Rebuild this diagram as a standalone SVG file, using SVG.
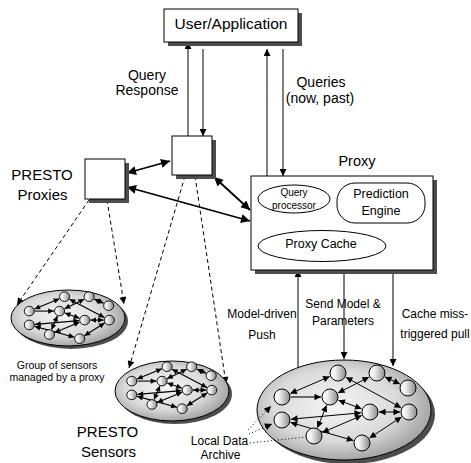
<svg xmlns="http://www.w3.org/2000/svg" width="471" height="463" viewBox="0 0 471 463">
<defs>
<style>
text{font-family:"Liberation Sans",Arial,sans-serif;fill:#000}
.box{fill:#fff;stroke:#000;stroke-width:1}
.shadow{fill:#4d4d4d}
.ln{stroke:#000;stroke-width:1;fill:none}
.thick{stroke:#000;stroke-width:1.8;fill:none}
.dash{stroke:#000;stroke-width:1;stroke-dasharray:4 3;fill:none}
.dot{stroke:#000;stroke-width:1;stroke-dasharray:1 2.5;fill:none}
.inner{fill:#fff;stroke:#000;stroke-width:1}
</style>
<marker id="a" viewBox="0 0 10 10" refX="10" refY="5" markerWidth="8" markerHeight="7" markerUnits="userSpaceOnUse" orient="auto-start-reverse"><path d="M0,0L10,5L0,10z" fill="#000"/></marker>
<marker id="ab" viewBox="0 0 10 10" refX="10" refY="5" markerWidth="11" markerHeight="9" markerUnits="userSpaceOnUse" orient="auto-start-reverse"><path d="M0,0L10,5L0,10z" fill="#000"/></marker>
<marker id="an" viewBox="0 0 10 10" refX="10" refY="5" markerWidth="9" markerHeight="6.5" markerUnits="userSpaceOnUse" orient="auto-start-reverse"><path d="M0,0L10,5L0,10z" fill="#000"/></marker>
<marker id="as" viewBox="0 0 10 10" refX="10" refY="5" markerWidth="12" markerHeight="9" markerUnits="userSpaceOnUse" orient="auto-start-reverse"><path d="M0,0L10,5L0,10z" fill="#000"/></marker>
<linearGradient id="ng" x1="0" y1="0" x2="1" y2="0"><stop offset="0" stop-color="#fff"/><stop offset="0.35" stop-color="#eee"/><stop offset="1" stop-color="#8a8a8a"/></linearGradient>
<radialGradient id="eg" cx="0.45" cy="0.45" r="0.6"><stop offset="0" stop-color="#f6f6f6"/><stop offset="0.6" stop-color="#dadada"/><stop offset="1" stop-color="#9a9a9a"/></radialGradient>
<g id="edges">
<line x1="-54.7" y1="-17.5" x2="-15.3" y2="-34.5"/>
<line x1="-7" y1="-18.1" x2="24" y2="-33.9"/>
<line x1="40.1" y1="-34.1" x2="54.9" y2="-26.9"/>
<line x1="0.9" y1="-33.7" x2="56.1" y2="-3.3"/>
<line x1="-6.6" y1="-10.8" x2="16.6" y2="-2.2"/>
<line x1="-54" y1="8.2" x2="16" y2="1.8"/>
<line x1="34" y1="1" x2="55" y2="1"/>
<line x1="-18.4" y1="-5.7" x2="-27.6" y2="16.7"/>
<line x1="-22.7" y1="21.5" x2="16.7" y2="4.5"/>
<line x1="-54.4" y1="11.5" x2="8.4" y2="29.5"/>
<line x1="24.5" y1="27" x2="56.5" y2="6"/>
</g>
<g id="nodes" fill="url(#ng)" stroke="#000">
<circle cx="-63" cy="-14" r="8"/>
<circle cx="-7" cy="-38" r="8"/>
<circle cx="32" cy="-38" r="8"/>
<circle cx="63" cy="-23" r="8"/>
<circle cx="-15" cy="-14" r="8"/>
<circle cx="25" cy="1" r="8"/>
<circle cx="64" cy="1" r="8"/>
<circle cx="-63" cy="9" r="8"/>
<circle cx="-31" cy="25" r="8"/>
<circle cx="17" cy="32" r="8"/>
</g>
</defs>

<g id="connectors">
<line class="ln" x1="188" y1="136" x2="188" y2="42" marker-end="url(#a)"/>
<line class="ln" x1="203" y1="49" x2="203" y2="136" marker-end="url(#a)"/>
<line class="ln" x1="267" y1="176" x2="267" y2="49" marker-end="url(#a)"/>
<line class="ln" x1="283" y1="49" x2="283" y2="176" marker-end="url(#a)"/>
<line class="ln" x1="298" y1="367" x2="298" y2="270" marker-end="url(#a)"/>
<line class="ln" x1="344" y1="270" x2="344" y2="359" marker-end="url(#a)"/>
<line class="ln" x1="393" y1="270" x2="393" y2="366" marker-end="url(#a)"/>
<line class="thick" x1="127" y1="173" x2="170" y2="161" marker-start="url(#ab)" marker-end="url(#ab)"/>
<line class="thick" x1="127" y1="187" x2="250" y2="221" marker-start="url(#ab)" marker-end="url(#ab)"/>
<line class="thick" x1="214" y1="177" x2="250" y2="210" marker-start="url(#ab)" marker-end="url(#ab)"/>
<line class="dash" x1="89" y1="200" x2="17" y2="305" marker-end="url(#a)"/>
<line class="dash" x1="107" y1="200" x2="124" y2="304" marker-end="url(#a)"/>
<line class="dash" x1="185" y1="176" x2="129" y2="368" marker-end="url(#a)"/>
<line class="dash" x1="195" y1="176" x2="226" y2="384" marker-end="url(#a)"/>
</g>

<g id="user-app">
<rect class="shadow" x="168" y="13" width="134" height="33"/>
<rect class="box" x="164" y="9" width="134" height="33"/>
<text x="231" y="29" font-size="15.5" text-anchor="middle">User/Application</text>
</g>

<g id="proxy-center">
<rect class="shadow" x="176" y="140" width="40" height="39"/>
<rect class="box" x="172" y="136" width="40" height="39"/>
</g>

<g id="proxy-left">
<rect class="shadow" x="89" y="163" width="40" height="40"/>
<rect class="box" x="85" y="159" width="40" height="40"/>
</g>

<g id="proxy">
<rect class="shadow" x="255" y="180" width="182" height="94"/>
<rect class="box" x="251" y="176" width="182" height="94"/>
<ellipse class="inner" cx="294" cy="199" rx="36" ry="14"/>
<text x="294" y="195.5" font-size="10" text-anchor="middle">Query</text>
<text x="294" y="209" font-size="10" text-anchor="middle">processor</text>
<rect class="inner" x="337" y="183" width="88" height="40" rx="18"/>
<text x="381" y="198" font-size="12.5" text-anchor="middle">Prediction</text>
<text x="381" y="215" font-size="12.5" text-anchor="middle">Engine</text>
<ellipse class="inner" cx="322" cy="246" rx="64" ry="15.5"/>
<text x="321" y="248" font-size="12.5" text-anchor="middle">Proxy Cache</text>
</g>

<g id="cluster-1">
<ellipse class="shadow" cx="71" cy="321" rx="57" ry="28"/>
<ellipse cx="68" cy="318" rx="57" ry="28" fill="url(#eg)" stroke="#000"/>
<g transform="translate(69,319.5) scale(0.63,0.6)">
<use href="#edges" fill="none" stroke="#000" stroke-width="1.9" marker-start="url(#as)" marker-end="url(#as)"/>
<line x1="-54" y1="-14" x2="-24" y2="-14" stroke="#5a5a5a" stroke-width="3" marker-end="url(#as)"/>
<use href="#nodes" stroke-width="1.5"/>
</g>
</g>

<g id="cluster-2">
<ellipse class="shadow" cx="175" cy="394" rx="57" ry="30"/>
<ellipse cx="172" cy="391" rx="57" ry="30" fill="url(#eg)" stroke="#000"/>
<g transform="translate(171.5,389.5) scale(0.63,0.6)">
<use href="#edges" fill="none" stroke="#000" stroke-width="1.9" marker-start="url(#as)" marker-end="url(#as)"/>
<line x1="-54" y1="-14" x2="-24" y2="-14" stroke="#5a5a5a" stroke-width="3" marker-end="url(#as)"/>
<use href="#nodes" stroke-width="1.5"/>
</g>
</g>

<g id="cluster-big">
<ellipse class="shadow" cx="348" cy="414" rx="87" ry="50"/>
<ellipse cx="344" cy="410" rx="87" ry="50" fill="url(#eg)" stroke="#000"/>
<g transform="translate(345,411)">
<g fill="none" stroke="#000" stroke-width="1">
<line x1="-54.7" y1="-17.5" x2="-15.3" y2="-34.5" marker-start="url(#an)" marker-end="url(#an)"/>
<line x1="-7" y1="-18.1" x2="24" y2="-33.9" marker-start="url(#an)" marker-end="url(#an)"/>
<line x1="40.1" y1="-34.1" x2="54.9" y2="-26.9" marker-start="url(#an)" marker-end="url(#an)"/>
<line x1="0.9" y1="-33.7" x2="56.1" y2="-3.3" marker-start="url(#an)" marker-end="url(#an)"/>
<line x1="-6.6" y1="-10.8" x2="16.6" y2="-2.2" marker-start="url(#an)" marker-end="url(#an)"/>
<line x1="-54" y1="8.2" x2="16" y2="1.8" marker-start="url(#an)" marker-end="url(#an)"/>
<line x1="34" y1="1" x2="55" y2="1" marker-start="url(#an)" marker-end="url(#an)"/>
<line x1="-18.4" y1="-5.7" x2="-27.6" y2="16.7" marker-start="url(#an)" marker-end="url(#an)"/>
<line x1="-22.7" y1="21.5" x2="16.7" y2="4.5" marker-start="url(#an)" marker-end="url(#an)"/>
<line x1="-54.4" y1="11.5" x2="8.4" y2="29.5" marker-start="url(#an)" marker-end="url(#an)"/>
<line x1="24.5" y1="27" x2="56.5" y2="6" marker-start="url(#an)" marker-end="url(#an)"/>
</g>
<line x1="-54" y1="-14" x2="-24" y2="-14" stroke="#6a6a6a" stroke-width="2" marker-end="url(#an)"/>
<use href="#nodes" stroke-width="1"/>
</g>
</g>

<g id="archive-links">
<line class="dot" x1="248" y1="430" x2="271" y2="406" marker-end="url(#a)"/>
<line class="dot" x1="249" y1="434" x2="272" y2="424" marker-end="url(#a)"/>
<line class="dot" x1="250" y1="443" x2="306" y2="437"/>
</g>

<g id="labels">
<text x="147" y="80" font-size="14" text-anchor="middle">Query</text>
<text x="147" y="94.5" font-size="14" text-anchor="middle">Response</text>
<text x="321" y="86.5" font-size="14" text-anchor="middle">Queries</text>
<text x="320" y="103" font-size="14" text-anchor="middle">(now, past)</text>
<text x="357" y="165.5" font-size="14.5" text-anchor="middle">Proxy</text>
<text x="42" y="180" font-size="15" text-anchor="middle">PRESTO</text>
<text x="42.5" y="199.5" font-size="15" text-anchor="middle">Proxies</text>
<text x="262" y="317.5" font-size="12" text-anchor="middle">Model-driven</text>
<text x="262" y="339" font-size="12" text-anchor="middle">Push</text>
<text x="343" y="307.5" font-size="12" text-anchor="middle">Send Model &amp;</text>
<text x="343" y="324.5" font-size="12" text-anchor="middle">Parameters</text>
<text x="435" y="317.5" font-size="12" text-anchor="middle">Cache miss-</text>
<text x="435" y="337.5" font-size="12" text-anchor="middle">triggered pull</text>
<text x="57" y="369" font-size="10.5" text-anchor="middle">Group of sensors</text>
<text x="57" y="381" font-size="10.5" text-anchor="middle">managed by a proxy</text>
<text x="107.5" y="437" font-size="15" text-anchor="middle">PRESTO</text>
<text x="108.5" y="457" font-size="15" text-anchor="middle">Sensors</text>
<text x="219.5" y="444.5" font-size="12" text-anchor="middle">Local Data</text>
<text x="220.5" y="458.5" font-size="12" text-anchor="middle">Archive</text>
</g>
</svg>
